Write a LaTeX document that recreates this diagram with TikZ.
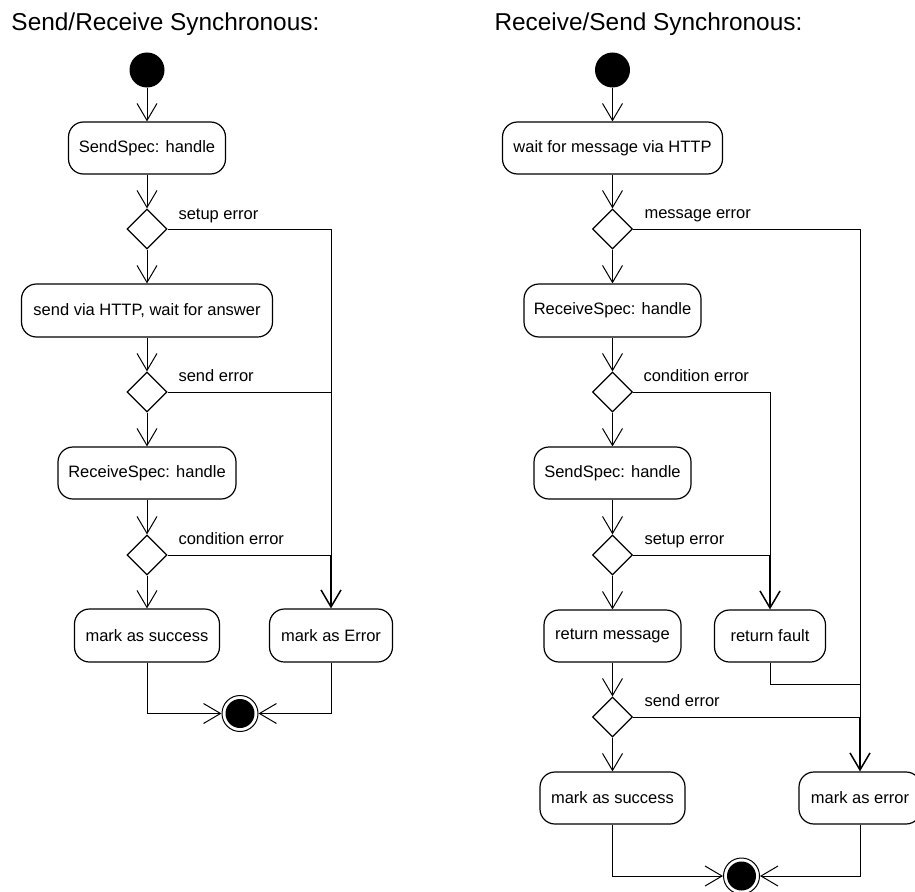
\documentclass[tikz,border=0pt]{standalone}
\usepackage{fontspec}
\setmainfont{Liberation Sans}
\usetikzlibrary{arrows.meta,shapes.geometric}
\begin{document}
\begin{tikzpicture}[x=1pt,y=-1pt,
  line width=1pt,
  action/.style={draw,line width=1.2pt,rounded corners=15pt,inner sep=0pt,
    font=\fontsize{16.5}{19}\selectfont},
  decision/.style={draw,line width=1.2pt,diamond,minimum width=40pt,
    minimum height=40pt,inner sep=0pt},
  initial/.style={circle,fill=black,minimum size=35pt,inner sep=0pt},
  final/.style={circle,draw,line width=1pt,minimum size=36pt,inner sep=0pt,
    path picture={\fill (path picture bounding box.center) circle (14.5pt);}},
  guard/.style={anchor=base west,inner sep=0pt,font=\fontsize{16.5}{19}\selectfont},
  heading/.style={anchor=base west,inner sep=0pt,font=\fontsize{24.4}{28}\selectfont},
  flow/.style={-{Straight Barb[length=17pt,width=20pt,line width=1pt]}},
  merge/.style={-{Straight Barb[length=17pt,width=20pt,line width=1.5pt]}}]

\useasboundingbox (0,0) rectangle (915,891);
\clip (0,0) rectangle (915,891);

% ---------- Send/Receive Synchronous ----------
\node[heading] (titleL) at (11,31) {Send/Receive Synchronous:};

\node[initial] (sL) at (147,70) {};
\node[action,minimum width=157pt,minimum height=52pt] (a1) at (147,148) {SendSpec: handle};
\node[decision] (d1) at (147,229) {};
\node[action,minimum width=251pt,minimum height=53pt] (a2) at (147,310.5) {send via HTTP, wait for answer};
\node[decision] (d2) at (147,392) {};
\node[action,minimum width=178pt,minimum height=52pt] (a3) at (147,473) {ReceiveSpec: handle};
\node[decision] (d3) at (147,555) {};
\node[action,minimum width=145pt,minimum height=53pt] (a4) at (147,635.5) {mark as success};
\node[action,minimum width=123pt,minimum height=53pt] (a5) at (331,635.5) {mark as Error};
\node[final] (fL) at (240,713.5) {};

\node[guard] (g1) at (178,219) {setup error};
\node[guard] (g2) at (178,381) {send error};
\node[guard] (g3) at (178,544) {condition error};

\draw[flow] (sL) -- (a1);
\draw[flow] (a1) -- (d1);
\draw[flow] (d1) -- (a2);
\draw[flow] (a2) -- (d2);
\draw[flow] (d2) -- (a3);
\draw[flow] (a3) -- (d3);
\draw[flow] (d3) -- (a4);
\draw (d1.east) -| (d3.east -| a5.north);
\draw (d2.east) -- (d2.east -| a5.north);
\draw (d3.east) -- (d3.east -| a5.north);
\draw[merge,line width=1.3pt] (d3.east -| a5.north) -- (a5.north);
\draw[flow] (a4.south) |- (fL.west);
\draw[flow] (a5.south) |- (fL.east);

% ---------- Receive/Send Synchronous ----------
\node[heading] (titleR) at (494,31) {Receive/Send Synchronous:};

\node[initial] (sR) at (612.5,70) {};
\node[action,minimum width=220pt,minimum height=52pt] (b1) at (612.5,148) {wait for message via HTTP};
\node[decision] (e1) at (612.5,229) {};
\node[action,minimum width=177pt,minimum height=53pt] (b2) at (612.5,310.5) {ReceiveSpec: handle};
\node[decision] (e2) at (612.5,392) {};
\node[action,minimum width=157pt,minimum height=52pt] (b3) at (612.5,473) {SendSpec: handle};
\node[decision] (e3) at (612.5,555) {};
\node[action,minimum width=137pt,minimum height=52pt] (b4) at (612.5,636) {return message};
\node[action,minimum width=111pt,minimum height=52pt] (b5) at (770,636) {return fault};
\node[decision] (e4) at (612.5,717) {};
\node[action,minimum width=145pt,minimum height=52pt] (b6) at (612.5,798) {mark as success};
\node[action,minimum width=122pt,minimum height=52pt] (b7) at (860,798) {mark as error};
\node[final] (fR) at (741.5,876) {};
\coordinate (jR) at (860,684);

\node[guard] (h1) at (644,218) {message error};
\node[guard] (h2) at (643,381) {condition error};
\node[guard] (h3) at (644,544) {setup error};
\node[guard] (h4) at (644,706) {send error};

\draw[flow] (sR) -- (b1);
\draw[flow] (b1) -- (e1);
\draw[flow] (e1) -- (b2);
\draw[flow] (b2) -- (e2);
\draw[flow] (e2) -- (b3);
\draw[flow] (b3) -- (e3);
\draw[flow] (e3) -- (b4);
\draw[flow] (b4) -- (e4);
\draw[flow] (e4) -- (b6);
\draw (e1.east) -| (e4.east -| b7.north);
\draw (e2.east) -| (e3.east -| b5.north);
\draw (e3.east) -- (e3.east -| b5.north);
\draw[merge,line width=1.3pt] (e3.east -| b5.north) -- (b5.north);
\draw (b5.south) |- (jR);
\draw (e4.east) -- (e4.east -| b7.north);
\draw[merge,line width=1.3pt] (e4.east -| b7.north) -- (b7.north);
\draw[flow] (b6.south) |- (fR.west);
\draw[flow] (b7.south) |- (fR.east);
\end{tikzpicture}
\end{document}
